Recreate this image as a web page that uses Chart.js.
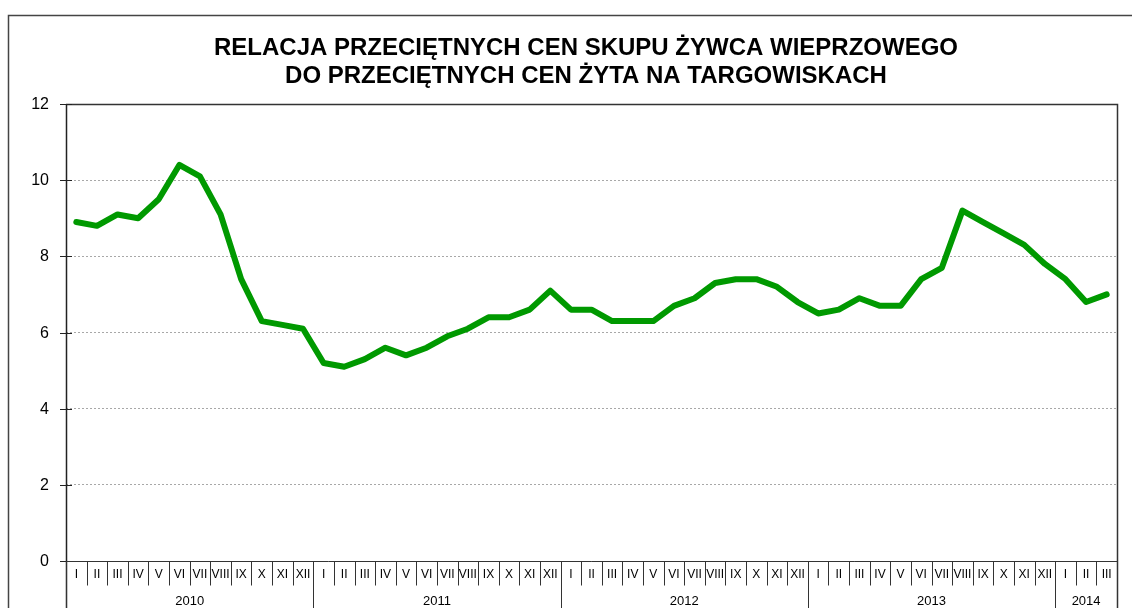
<!DOCTYPE html>
<html>
<head>
<meta charset="utf-8">
<script src="https://cdn.jsdelivr.net/npm/chart.js@4.4.1/dist/chart.umd.min.js"></script>
<style>
  html, body { margin: 0; padding: 0; background: #fff; }
  #wrap { position: relative; width: 1132px; height: 608px; }
</style>
</head>
<body>
<div id="wrap"><canvas id="c" width="1132" height="608"></canvas></div>
<script>
const titleLines = ["RELACJA PRZECIĘTNYCH CEN SKUPU ŻYWCA WIEPRZOWEGO", "DO PRZECIĘTNYCH CEN ŻYTA NA TARGOWISKACH"];
const monthNames = ["I","II","III","IV","V","VI","VII","VIII","IX","X","XI","XII"];
const years = ["2010","2011","2012","2013","2014"];
const monthsPerYear = [12, 12, 12, 12, 3];
const values2010 = [8.9, 8.8, 9.1, 9.0, 9.5, 10.4, 10.1, 9.1, 7.4, 6.3, 6.2, 6.1];
const values2011 = [5.2, 5.1, 5.3, 5.6, 5.4, 5.6, 5.9, 6.1, 6.4, 6.4, 6.6, 7.1];
const values2012 = [6.6, 6.6, 6.3, 6.3, 6.3, 6.7, 6.9, 7.3, 7.4, 7.4, 7.2, 6.8];
const values2013 = [6.5, 6.6, 6.9, 6.7, 6.7, 7.4, 7.7, 9.2, 8.9, 8.6, 8.3, 7.8];
const values2014 = [7.4, 6.8, 7.0];
const yTicks = [0, 2, 4, 6, 8, 10, 12];

const labels = [];
monthsPerYear.forEach((n, yi) => { for (let m = 0; m < n; m++) labels.push(monthNames[m]); });
const values = [].concat(values2010, values2011, values2012, values2013, values2014);

const FONT = "Arial, 'Liberation Sans', sans-serif";

const decor = {
  id: 'decor',
  afterDraw(chart) {
    const ctx = chart.ctx;
    const a = chart.chartArea;
    const xs = chart.scales.x;
    const ys = chart.scales.y;
    ctx.save();
    // outer frame
    ctx.strokeStyle = '#444';
    ctx.lineWidth = 1.5;
    ctx.beginPath();
    ctx.moveTo(8.5, 640); ctx.lineTo(8.5, 15.5); ctx.lineTo(1150, 15.5);
    ctx.stroke();
    // plot border top & right
    ctx.strokeStyle = '#333';
    ctx.lineWidth = 1.5;
    ctx.beginPath();
    ctx.moveTo(a.left, Math.round(a.top) + 0.5);
    ctx.lineTo(Math.round(a.right) + 0.5, Math.round(a.top) + 0.5);
    ctx.lineTo(Math.round(a.right) + 0.5, chart.height);
    ctx.stroke();
    // y axis line
    ctx.strokeStyle = '#222';
    ctx.lineWidth = 1.5;
    ctx.beginPath();
    ctx.moveTo(Math.round(a.left) + 0.5, a.top);
    ctx.lineTo(Math.round(a.left) + 0.5, chart.height);
    ctx.stroke();
    // y tick marks and labels
    ctx.lineWidth = 1;
    ctx.fillStyle = '#000';
    ctx.textAlign = 'right';
    ctx.textBaseline = 'middle';
    ctx.font = '16px ' + FONT;
    yTicks.forEach(v => {
      const y = Math.round(ys.getPixelForValue(v)) + 0.5;
      ctx.beginPath();
      ctx.moveTo(a.left - 6, y); ctx.lineTo(a.left + 6, y);
      ctx.stroke();
      ctx.fillText(String(v), a.left - 17, y);
    });
    // x axis line
    const y0 = Math.round(ys.getPixelForValue(0)) + 0.5;
    ctx.strokeStyle = '#333';
    ctx.lineWidth = 1;
    ctx.beginPath();
    ctx.moveTo(a.left, y0); ctx.lineTo(a.right, y0);
    ctx.stroke();
    // month separators and labels
    const n = labels.length;
    const half = (xs.getPixelForValue(1) - xs.getPixelForValue(0)) / 2;
    let idx = 0;
    const yearStarts = [];
    monthsPerYear.forEach(c => { yearStarts.push(idx); idx += c; });
    ctx.strokeStyle = '#333';
    for (let i = 0; i <= n; i++) {
      const x = (i < n ? xs.getPixelForValue(i) - half : xs.getPixelForValue(n - 1) + half);
      const xr = Math.round(x) + 0.5;
      const isYear = yearStarts.includes(i) || i === n;
      ctx.beginPath();
      ctx.moveTo(xr, y0);
      ctx.lineTo(xr, isYear ? chart.height : y0 + 24);
      ctx.stroke();
    }
    ctx.textAlign = 'center';
    ctx.font = '12px ' + FONT;
    for (let i = 0; i < n; i++) {
      ctx.fillText(labels[i], xs.getPixelForValue(i), y0 + 13);
    }
    ctx.font = '13px ' + FONT;
    years.forEach((yr, k) => {
      const s = yearStarts[k];
      const e = s + monthsPerYear[k] - 1;
      const cx = (xs.getPixelForValue(s) + xs.getPixelForValue(e)) / 2;
      ctx.fillText(yr, cx, y0 + 40);
    });
    ctx.restore();
  }
};

new Chart(document.getElementById('c'), {
  type: 'line',
  data: {
    labels: labels,
    datasets: [{
      data: values,
      borderColor: '#009900',
      backgroundColor: '#009900',
      borderWidth: 6,
      pointRadius: 0,
      tension: 0,
      borderJoinStyle: 'round',
      borderCapStyle: 'round'
    }]
  },
  options: {
    responsive: false,
    animation: false,
    devicePixelRatio: 1,
    layout: { padding: { left: 55, right: 15, top: 0, bottom: 0 } },
    plugins: {
      legend: { display: false },
      tooltip: { enabled: false },
      title: {
        display: true,
        text: titleLines,
        color: '#000',
        font: { family: FONT, size: 24, weight: 'bold', lineHeight: 1.1667 },
        padding: { top: 34, bottom: 14 }
      }
    },
    scales: {
      x: {
        type: 'category',
        offset: true,
        grid: { display: false },
        border: { display: false },
        ticks: { display: false },
        afterFit(scale) { scale.height = 47; }
      },
      y: {
        min: 0,
        max: 12,
        afterBuildTicks(scale) { scale.ticks = yTicks.map(v => ({ value: v })); },
        grid: { color: '#a8a8a8', lineWidth: 1, drawTicks: false },
        border: { display: false, dash: [2, 2] },
        ticks: { display: false },
        afterFit(scale) { scale.width = 11; }
      }
    }
  },
  plugins: [decor]
});
</script>
</body>
</html>
